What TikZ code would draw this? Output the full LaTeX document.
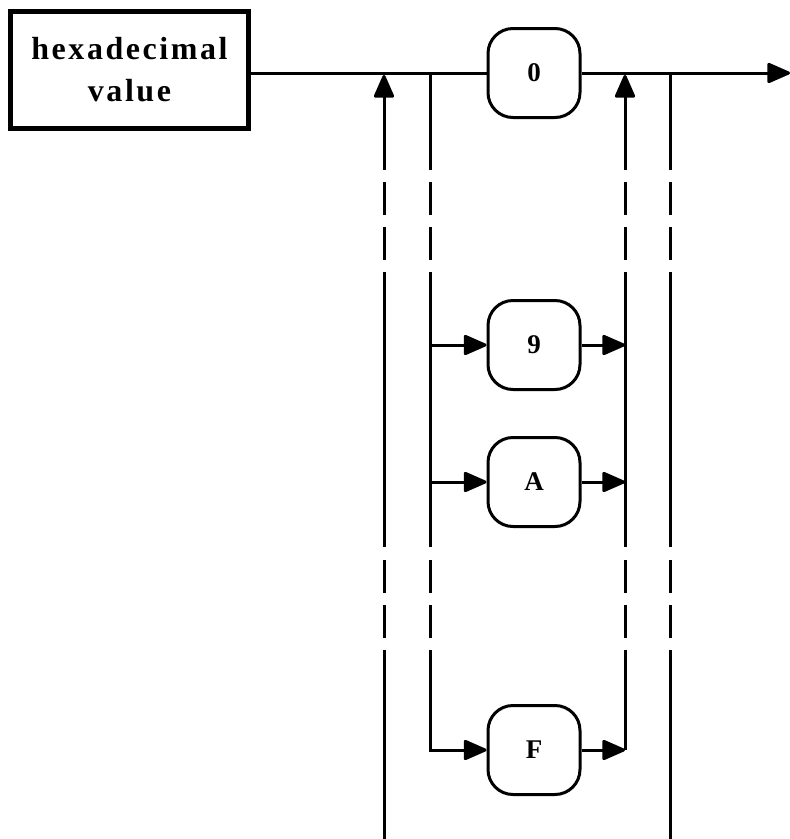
\documentclass[tikz,border=0pt]{standalone}
\usepackage{fontspec}
\setmainfont{Liberation Serif}
\usetikzlibrary{arrows.meta}
\begin{document}
\begin{tikzpicture}[x=1pt,y=-1pt,line width=3pt,
  tip/.style={-{Triangle[length=25pt,width=21pt,round]}},
  rbox/.style={draw,rounded corners=25pt,minimum width=92pt,minimum height=89pt,inner sep=0pt,font=\fontsize{27}{30}\selectfont\bfseries},
  dsh/.style={dash pattern=on 33pt off 12pt}]
\useasboundingbox (0,0) rectangle (790,839);
\node[draw,line width=5pt,minimum width=238pt,minimum height=117pt,inner sep=0pt,align=center,
  font=\fontsize{32}{42}\selectfont\bfseries\addfontfeature{LetterSpace=8}] (hex) at (129.5,69.5) {hexadecimal\\value};
\node[rbox] (n0) at (534,73) {0};
\node[rbox] (n9) at (534,345) {9};
\node[rbox] (nA) at (534,482) {A};
\node[rbox] (nF) at (534,750) {F};
\coordinate (end) at (790,73);
\foreach \n/\x in {p/384,q/430,r/625,s/670}{
  \coordinate (\n-top) at (\x,73);
  \coordinate (\n-tip) at (\x,75);
  \coordinate (\n-a) at (\x,170);
  \coordinate (\n-b) at (\x,182);
  \coordinate (\n-c) at (\x,260);
  \coordinate (\n-d) at (\x,272);
  \coordinate (\n-e) at (\x,547);
  \coordinate (\n-f) at (\x,560);
  \coordinate (\n-g) at (\x,638);
  \coordinate (\n-h) at (\x,650);
  \coordinate (\n-bot) at (\x,839);
  \coordinate (\n-9) at (\x,345);
  \coordinate (\n-A) at (\x,482);
  \coordinate (\n-F) at (\x,750);
}
% main line
\draw (hex.east |- n0.west) -- (n0.west);
\draw[tip] (n0.east) -- (end);
% outer loop-back (left, arrow up)
\draw (p-bot) -- (p-h);
\draw[dsh] (p-g) -- (p-f);
\draw (p-e) -- (p-d);
\draw[dsh] (p-c) -- (p-b);
\draw[tip] (p-a) -- (p-tip);
% outer bypass (right)
\draw (s-top) -- (s-a);
\draw[dsh] (s-b) -- (s-c);
\draw (s-d) -- (s-e);
\draw[dsh] (s-f) -- (s-g);
\draw (s-h) -- (s-bot);
% inner distribution (left)
\draw (q-top) -- (q-a);
\draw[dsh] (q-b) -- (q-c);
\draw (q-d) -- (q-e);
\draw[dsh] (q-f) -- (q-g);
\draw[tip] (q-h) -- (q-F) -- (nF.west);
\draw[tip] (q-9) -- (n9.west);
\draw[tip] (q-A) -- (nA.west);
% inner collection (right, arrow up)
\draw (r-F) -- (r-h);
\draw[dsh] (r-g) -- (r-f);
\draw (r-e) -- (r-d);
\draw[dsh] (r-c) -- (r-b);
\draw[tip] (r-a) -- (r-tip);
\draw[tip] (n9.east) -- (r-9);
\draw[tip] (nA.east) -- (r-A);
\draw[tip] (nF.east) -- (r-F);
\end{tikzpicture}
\end{document}
